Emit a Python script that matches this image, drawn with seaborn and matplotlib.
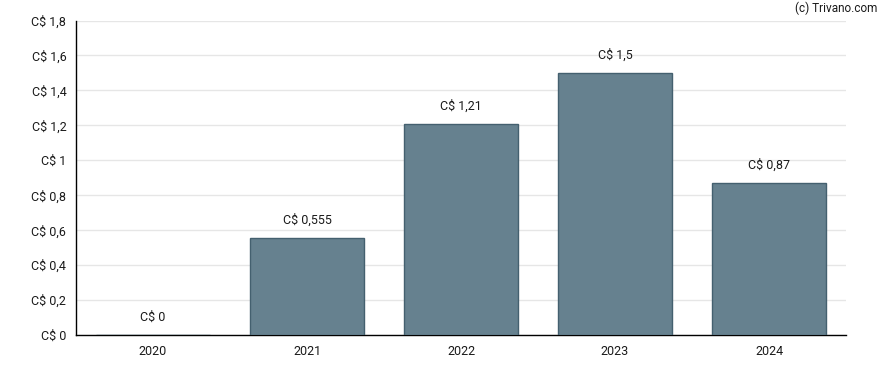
import matplotlib
matplotlib.use("Agg")
import matplotlib.pyplot as plt
import seaborn as sns
import pandas as pd
from matplotlib.ticker import FixedLocator, FuncFormatter

years = ["2020", "2021", "2022", "2023", "2024"]
values = [0.0, 0.555, 1.21, 1.5, 0.87]
value_labels = ["C$ 0", "C$ 0,555", "C$ 1,21", "C$ 1,5", "C$ 0,87"]
yticks = [0, 0.2, 0.4, 0.6, 0.8, 1.0, 1.2, 1.4, 1.6, 1.8]

sns.set_style("white")
plt.rcParams['font.family'] = ['Roboto', 'DejaVu Sans']

df = pd.DataFrame({"year": years, "value": values})

fig = plt.figure(figsize=(8.88, 3.70), dpi=100)
ax = fig.add_axes([76/888, 35/370, 770/888, 314.5/370])

sns.barplot(data=df, x="year", y="value", color="#66818f", saturation=1,
            edgecolor="#44606f", linewidth=1.0, width=0.74, ax=ax, zorder=3)

ax.set_ylim(0, 1.8)
ax.set_xlim(-0.5, 4.5)
ax.yaxis.set_major_locator(FixedLocator(yticks))
def fmt(v, pos):
    s = ("%.1f" % v).rstrip("0").rstrip(".")
    return "C$ " + s.replace(".", ",")
ax.yaxis.set_major_formatter(FuncFormatter(fmt))
ax.grid(axis="y", color="#e6e6e6", linewidth=1, zorder=0)
ax.set_axisbelow(True)
for s in ["top", "right"]:
    ax.spines[s].set_visible(False)
for s in ["left", "bottom"]:
    ax.spines[s].set_color("black")
    ax.spines[s].set_linewidth(1)
ax.tick_params(axis="both", which="major", length=4, width=1, color="black",
               labelsize=9, labelcolor="#1a1a1a", pad=3, direction="out")
ax.tick_params(axis="x", pad=3)
ax.set_xlabel("")
ax.set_ylabel("")

ax.bar_label(ax.containers[0], labels=value_labels, padding=8,
             fontsize=9, color="#1a1a1a")

fig.text(877/888, 1 - 8/370, "(c) Trivano.com", ha="right", va="center",
         fontsize=8.5, color="#1a1a1a")

fig.savefig("out.png", dpi=100)
